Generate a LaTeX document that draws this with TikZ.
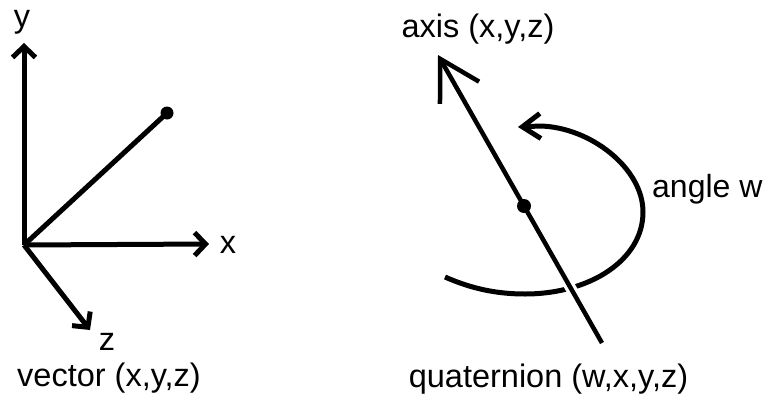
\documentclass[tikz,border=0pt]{standalone}
\usepackage{fontspec}
\setmainfont{Liberation Sans}
\usetikzlibrary{arrows.meta,calc}
\begin{document}
\begin{tikzpicture}[x=1pt,y=-1pt,
  lbl/.style={anchor=base,inner sep=0pt,font=\fontsize{32.5}{39}\selectfont},
  axline/.style={line width=5pt,-{Straight Barb[length=11pt,width=23pt]}},
  dotnode/.style={circle,fill=black,inner sep=0pt,minimum size=#1},
  bigarrow/.style={line width=4.5pt,-{Straight Barb[length=39pt,width=45pt]}},
  arcarrow/.style={line width=5pt,-{Straight Barb[length=18pt,width=25pt]}}]
\useasboundingbox (0,0) rectangle (766,394);
% left figure
\coordinate (O) at (24,245);
\coordinate (Ytip) at (24,43);
\coordinate (Xtip) at (209,244);
\coordinate (Ztip) at (90,330);
\node[dotnode=13pt] (V) at (167,113) {};
\draw[axline] (O) -- (Ytip);
\draw[axline] (O) -- (Xtip);
\draw[axline] (O) -- (Ztip);
\draw[line width=5pt] (O) -- (V.center);
\node[lbl] (ylab) at (22,27) {y};
\node[lbl] (xlab) at (228,253) {x};
\node[lbl] (zlab) at (107,350) {z};
\node[lbl] (vec) at (109,386) {vector (x,y,z)};
% right figure
\coordinate (B) at (602,343);
\coordinate (T) at (438,55);
\draw[arcarrow] (445,277) .. controls (470,288) and (495,294) .. (525,294)
  .. controls (590,294) and (643,260) .. (643,212)
  .. controls (643,168) and (590,127) .. (540,126) -- (518,127);
\draw[white,line width=11pt] ($(B)!0.12!(T)$) -- ($(B)!0.27!(T)$);
\draw[bigarrow] (B) -- (T);
\node[dotnode=14pt] (D) at (524,206) {};
\node[lbl] (axislab) at (478,37) {axis (x,y,z)};
\node[lbl] (quat) at (548.5,387) {quaternion (w,x,y,z)};
\node[lbl,anchor=base west,font=\fontsize{32}{38}\selectfont] (angle) at (652,197) {angle w};
\end{tikzpicture}
\end{document}
